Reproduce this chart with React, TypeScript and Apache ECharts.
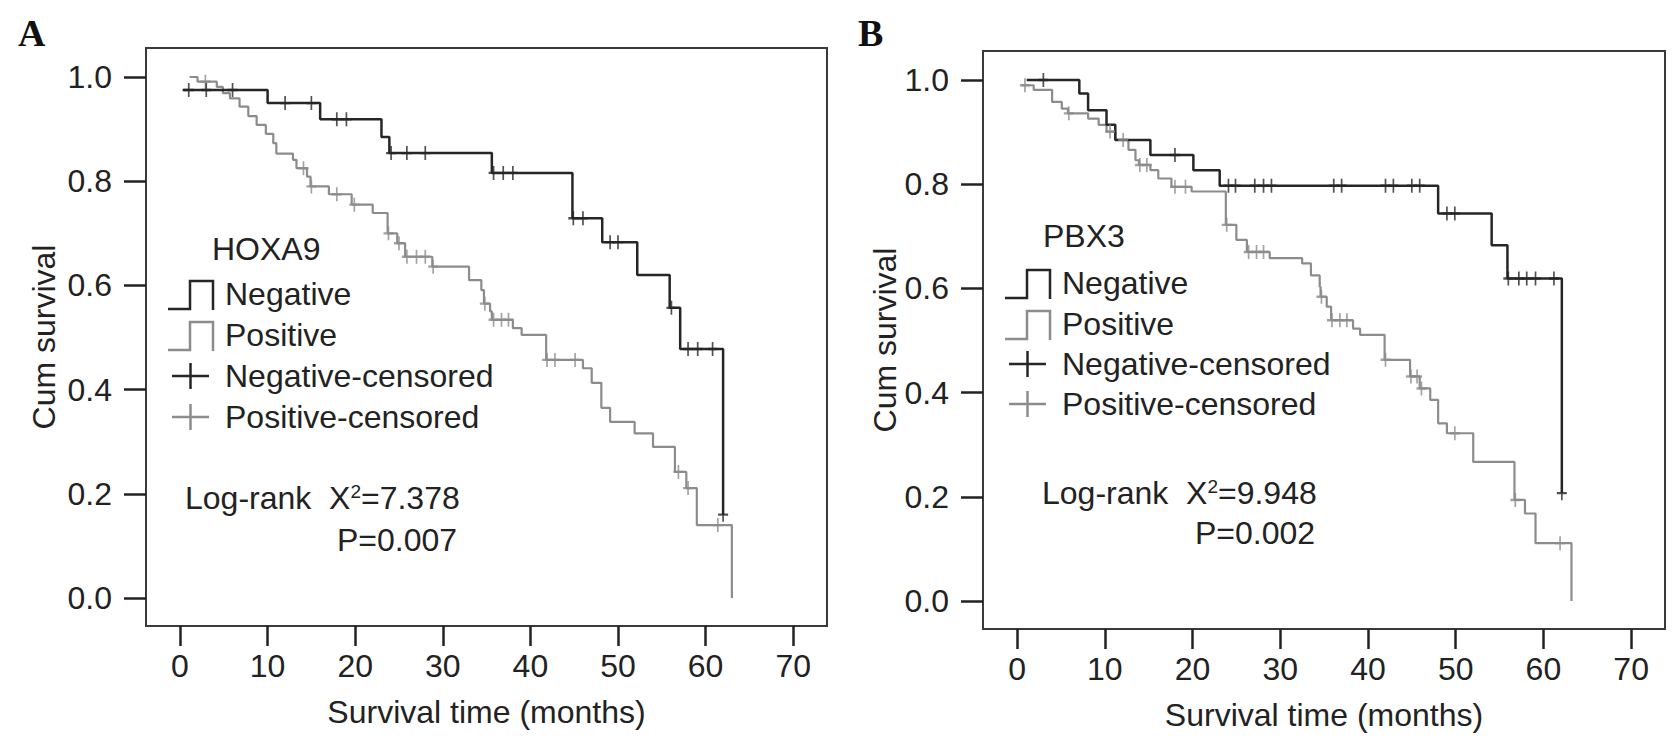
import React, { useEffect, useRef } from 'react';
import * as echarts from 'echarts';

const xTicks = [0, 10, 20, 30, 40, 50, 60, 70];
const yTicks = [0, 0.2, 0.4, 0.6, 0.8, 1.0];

// Panel A (HOXA9): [months, cum survival after the event]
const hoxaNegSteps = [
  [0.3, 0.975], [10, 0.95], [16, 0.919], [23, 0.885], [23.9, 0.854], [35.6, 0.816],
  [44.8, 0.729], [48.2, 0.683], [52.2, 0.62], [55.9, 0.557], [57.1, 0.478], [62, 0.16],
];
const hoxaPosSteps = [
  [1.1, 1.0], [2.0, 0.991], [4.2, 0.981], [4.9, 0.969], [5.7, 0.959], [6.8, 0.943],
  [7.8, 0.925], [8.75, 0.908], [9.8, 0.891], [10.65, 0.873], [11.0, 0.853], [12.9, 0.841],
  [13.3, 0.825], [14.5, 0.809], [14.9, 0.79], [17.0, 0.775], [19.6, 0.755], [22.0, 0.739],
  [23.7, 0.70], [24.8, 0.681], [25.7, 0.655], [28.8, 0.636], [33.0, 0.61], [34.4, 0.591],
  [34.7, 0.565], [35.4, 0.55], [35.6, 0.534], [38.0, 0.518], [39.0, 0.505], [41.8, 0.457],
  [46.0, 0.441], [47.0, 0.413], [48.1, 0.365], [49.1, 0.338], [51.9, 0.316], [54.0, 0.29],
  [56.5, 0.242], [57.8, 0.211], [59.0, 0.14], [63.0, 0.0],
];
const hoxaNegCensor = [1, 3, 6, 12, 15, 17.9, 19, 24.1, 25.9, 28, 35.8, 36.9, 38, 44.9, 46, 49.1, 50, 56.1, 58, 59.1, 60.8, 62];
const hoxaPosCensor = [2.9, 14.1, 15.0, 17.9, 19.9, 23.8, 25.0, 25.9, 27, 28, 28.9, 34.8, 35.8, 36.7, 37.5, 41.9, 42.8, 45.1, 56.9, 58.0, 61.4];

// Panel B (PBX3)
const pbxNegSteps = [
  [1.1, 1.0], [7.1, 0.974], [8.1, 0.942], [10.2, 0.914], [11.2, 0.885], [15.2, 0.856],
  [20.1, 0.827], [23.1, 0.797], [48.0, 0.744], [54.1, 0.683], [55.9, 0.619], [62.1, 0.207],
];
const pbxPosSteps = [
  [0.5, 0.99], [1.9, 0.981], [4.0, 0.958], [5.1, 0.945], [5.8, 0.936], [8.1, 0.926],
  [9.3, 0.914], [10.2, 0.901], [11.2, 0.885], [12.7, 0.866], [13.5, 0.846], [13.9, 0.837],
  [15.2, 0.827], [16.1, 0.811], [17.6, 0.795], [19.9, 0.786], [23.8, 0.722], [25.0, 0.693],
  [26.2, 0.67], [28.8, 0.658], [32.5, 0.648], [33.5, 0.625], [34.5, 0.603], [34.6, 0.584],
  [35.3, 0.565], [35.8, 0.539], [38.3, 0.523], [39.1, 0.511], [41.9, 0.463], [44.8, 0.431],
  [45.9, 0.408], [47.1, 0.386], [48.0, 0.341], [49.0, 0.322], [52.0, 0.267], [56.7, 0.194],
  [57.9, 0.168], [59.1, 0.111], [63.2, 0.0],
];
const pbxNegCensor = [3.0, 18.0, 24.1, 24.9, 27.1, 28.1, 29.0, 36.1, 37.0, 42.0, 42.9, 45.0, 45.9, 49.0, 49.9, 56.0, 57.2, 58.1, 59.1, 61.2, 62.1];
const pbxPosCensor = [0.9, 5.9, 10.6, 12.1, 14.0, 14.8, 18.0, 19.2, 23.9, 26.4, 27.3, 28.1, 34.7, 35.9, 36.8, 37.6, 42.0, 44.9, 45.6, 46.1, 49.9, 56.8, 61.9];

const BLACK = '#262626';
const GRAY = '#8c8c8c';
const FONT = '"Liberation Sans", Arial, sans-serif';

// survival level of a step curve at time t
const levelAt = (steps: number[][], t: number) => {
  let s = steps[0][1];
  for (const p of steps) if (p[0] <= t) s = p[1];
  return s;
};

const App: React.FC = () => {
  const chartRef = useRef<HTMLDivElement>(null);

  useEffect(() => {
    document.body.style.margin = '0';
    if (!chartRef.current) return;
    const chart = echarts.init(chartRef.current, undefined, { renderer: 'svg' });

    const xAxis = (gridIndex: number) => ({
      gridIndex,
      type: 'value',
      min: -3.88,
      max: 73.86,
      name: 'Survival time (months)',
      nameLocation: 'middle',
      nameGap: 70,
      nameTextStyle: { fontSize: 32, color: '#222', fontFamily: FONT },
      axisLine: { show: true, onZero: false, lineStyle: { color: '#3a3a3a', width: 2 } },
      axisTick: { show: true, customValues: xTicks, length: 20, lineStyle: { color: '#222', width: 2.5 } },
      axisLabel: { customValues: xTicks, margin: 24, fontSize: 32, color: '#222', fontFamily: FONT },
      splitLine: { show: false },
    });
    const yAxis = (gridIndex: number, gap: number) => ({
      gridIndex,
      type: 'value',
      min: -0.0537,
      max: 1.0557,
      name: 'Cum survival',
      nameLocation: 'middle',
      nameGap: gap,
      nameTextStyle: { fontSize: 32, color: '#222', fontFamily: FONT },
      axisLine: { show: true, onZero: false, lineStyle: { color: '#3a3a3a', width: 2 } },
      axisTick: { show: true, customValues: yTicks, length: 22, lineStyle: { color: '#222', width: 2.5 } },
      axisLabel: {
        customValues: yTicks, margin: 34, fontSize: 32, color: '#222', fontFamily: FONT,
        formatter: (v: number) => v.toFixed(1),
      },
      splitLine: { show: false },
    });

    const stepLine = (idx: number, name: string, data: number[][], color: string, width: number) => ({
      name, type: 'line', xAxisIndex: idx, yAxisIndex: idx, step: 'end', data,
      symbol: 'none', lineStyle: { color, width }, z: color === BLACK ? 3 : 2,
    });
    const censor = (idx: number, name: string, times: number[], steps: number[][], color: string) => ({
      name, type: 'scatter', xAxisIndex: idx, yAxisIndex: idx,
      data: times.map(t => [t, levelAt(steps, t)]),
      symbol: 'path://M0,0 L0,14 M-5,7 L5,7', symbolSize: [10, 14],
      itemStyle: { color: 'transparent', borderColor: color, borderWidth: 2 },
      z: color === BLACK ? 4 : 3,
    });

    const txt = (x: number, y: number, text: string, extra: any = {}) => ({
      type: 'text', x, y,
      style: { text, fontSize: 32, fontFamily: FONT, fill: '#222', verticalAlign: 'middle', ...extra },
    });
    const legend = (titleX: number, titleY: number, textX: number, rows: number[], ix: number[], title: string) => {
      const [x0, x1, x2] = ix;
      const icon = (y: number, color: string) => ({
        type: 'polyline',
        shape: { points: [[x0, y + 15], [x1, y + 15], [x1, y - 13], [x2, y - 13], [x2, y + 16]] },
        style: { stroke: color, lineWidth: 2.5, fill: null },
      });
      const plus = (y: number, color: string) => ({
        type: 'group',
        children: [
          { type: 'line', shape: { x1: x0 + 4, y1: y, x2: x2 - 4, y2: y }, style: { stroke: color, lineWidth: 2.5 } },
          { type: 'line', shape: { x1: (x0 + x2) / 2, y1: y - 13, x2: (x0 + x2) / 2, y2: y + 13 }, style: { stroke: color, lineWidth: 2.5 } },
        ],
      });
      return [
        txt(titleX, titleY, title),
        icon(rows[0], BLACK), txt(textX, rows[0], 'Negative'),
        icon(rows[1], GRAY), txt(textX, rows[1], 'Positive'),
        plus(rows[2], BLACK), txt(textX, rows[2], 'Negative-censored'),
        plus(rows[3], GRAY), txt(textX, rows[3], 'Positive-censored'),
      ];
    };
    const rich = {
      t: { fontSize: 32, fontFamily: FONT, fill: '#222' },
      s: { fontSize: 19, fontFamily: FONT, fill: '#222', verticalAlign: 'top' },
    };

    chart.setOption({
      animation: false,
      grid: [
        { left: 146, top: 48, width: 681, height: 578, show: true, borderColor: '#3a3a3a', borderWidth: 2 },
        { left: 983, top: 51, width: 682, height: 578, show: true, borderColor: '#3a3a3a', borderWidth: 2 },
      ],
      xAxis: [xAxis(0), xAxis(1)],
      yAxis: [yAxis(0, 86), yAxis(1, 82)],
      series: [
        stepLine(0, 'Positive', hoxaPosSteps, GRAY, 2.2),
        stepLine(0, 'Negative', hoxaNegSteps, BLACK, 2.5),
        censor(0, 'Positive-censored', hoxaPosCensor, hoxaPosSteps, GRAY),
        censor(0, 'Negative-censored', hoxaNegCensor, hoxaNegSteps, BLACK),
        stepLine(1, 'Positive', pbxPosSteps, GRAY, 2.2),
        stepLine(1, 'Negative', pbxNegSteps, BLACK, 2.5),
        censor(1, 'Positive-censored', pbxPosCensor, pbxPosSteps, GRAY),
        censor(1, 'Negative-censored', pbxNegCensor, pbxNegSteps, BLACK),
      ],
      graphic: [
        txt(18, 33, 'A', { fontSize: 38, fontWeight: 'bold', fontFamily: '"Liberation Serif", "Times New Roman", serif', fill: '#111' }),
        txt(858, 33, 'B', { fontSize: 38, fontWeight: 'bold', fontFamily: '"Liberation Serif", "Times New Roman", serif', fill: '#111' }),
        ...legend(212, 249, 225, [294, 335, 376, 417], [168, 190, 213], 'HOXA9'),
        ...legend(1043, 236, 1062, [283, 324, 364, 404], [1005, 1027, 1050], 'PBX3'),
        txt(185, 498, '{t|Log-rank  Χ}{s|2}{t|=7.378}', { rich }),
        txt(337, 540, 'P=0.007'),
        txt(1042, 493, '{t|Log-rank  Χ}{s|2}{t|=9.948}', { rich }),
        txt(1195, 533, 'P=0.002'),
      ],
    });

    return () => chart.dispose();
  }, []);

  return <div ref={chartRef} style={{ width: 1680, height: 754, background: '#fff' }} />;
};

export default App;
